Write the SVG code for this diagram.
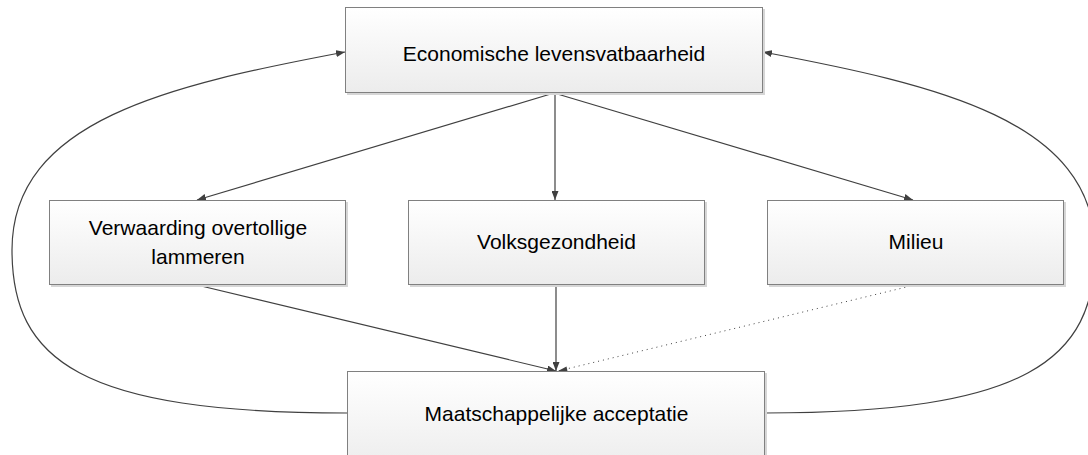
<svg xmlns="http://www.w3.org/2000/svg" width="1088" height="455" viewBox="0 0 1088 455">
  <defs>
    <linearGradient id="boxfill" x1="0" y1="0" x2="0" y2="1">
      <stop offset="0" stop-color="#ffffff"/>
      <stop offset="1" stop-color="#ececec"/>
    </linearGradient>
    <marker id="arrow" markerUnits="userSpaceOnUse" markerWidth="9" markerHeight="7" refX="9" refY="3.5" orient="auto">
      <path d="M0,0 L9,3.5 L0,7 z" fill="#404040"/>
    </marker>
  </defs>
  <style>
    .shadow { fill: #d6d6d6; }
    .box { fill: url(#boxfill); stroke: #808080; stroke-width: 1; }
    .label { font-family: "Liberation Sans", Arial, sans-serif; font-size: 21px; fill: #000000; text-anchor: middle; }
    .conn { fill: none; stroke: #404040; stroke-width: 1.2; }
    .dotted { fill: none; stroke: #404040; stroke-width: 1; stroke-dasharray: 1 4; }
  </style>
  <rect width="1088" height="455" fill="#ffffff"/>

  <g id="connectors">
    <path class="conn" d="M554,93 L197,200" marker-end="url(#arrow)"/>
    <path class="conn" d="M555,93 L555,200" marker-end="url(#arrow)"/>
    <path class="conn" d="M554,93 L913,200" marker-end="url(#arrow)"/>
    <path class="conn" d="M197,285 L556,371" marker-end="url(#arrow)"/>
    <path class="conn" d="M556,285 L556,371" marker-end="url(#arrow)"/>
    <path class="dotted" d="M915,285 L558,371"/>
    <path d="M558,371 L566.5,366.4 L567.9,372.9 z" fill="#404040"/>
    <path class="conn" d="M347,413 C 80,413 12,360 12,250 C 12,120 170,85 345,52" marker-end="url(#arrow)"/>
    <path class="conn" d="M765,413 C 1027,413 1095,360 1095,250 C 1095,120 937,85 763,52" marker-end="url(#arrow)"/>
  </g>

  <g id="node-economische">
    <rect class="shadow" x="347" y="9" width="418" height="86"/>
    <rect class="box" x="345.5" y="7.5" width="417" height="85"/>
    <text class="label" x="554" y="61">Economische levensvatbaarheid</text>
  </g>

  <g id="node-verwaarding">
    <rect class="shadow" x="51" y="202" width="297" height="85"/>
    <rect class="box" x="49.5" y="200.5" width="296" height="84"/>
    <text class="label" x="198" y="235">Verwaarding overtollige</text>
    <text class="label" x="198" y="264">lammeren</text>
  </g>

  <g id="node-volksgezondheid">
    <rect class="shadow" x="410" y="202" width="297" height="85"/>
    <rect class="box" x="408.5" y="200.5" width="296" height="84"/>
    <text class="label" x="556.5" y="249">Volksgezondheid</text>
  </g>

  <g id="node-milieu">
    <rect class="shadow" x="769" y="202" width="297" height="85"/>
    <rect class="box" x="767.5" y="200.5" width="296" height="84"/>
    <text class="label" x="916" y="249">Milieu</text>
  </g>

  <g id="node-maatschappelijke">
    <rect class="shadow" x="349" y="373" width="418" height="100"/>
    <rect class="box" x="347.5" y="371.5" width="417" height="100"/>
    <text class="label" x="556.5" y="421">Maatschappelijke acceptatie</text>
  </g>
</svg>
